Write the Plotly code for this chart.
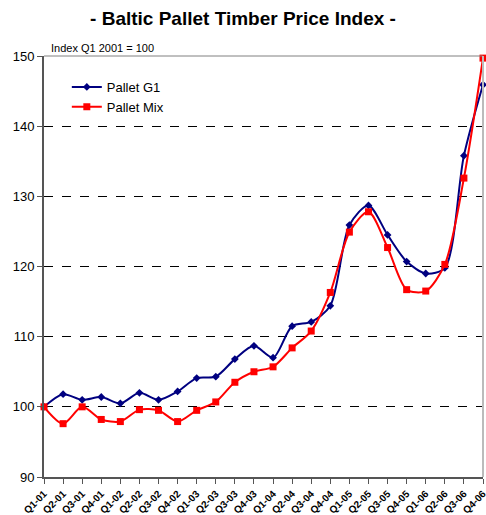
import plotly.graph_objects as go

quarters = [f"Q{q}-{y:02d}" for y in range(1, 7) for q in range(1, 5)]

pallet_g1 = [100.0, 101.8, 101.0, 101.4, 100.5, 102.0, 101.0, 102.2,
             104.1, 104.3, 106.8, 108.7, 107.0, 111.5, 112.1, 114.4,
             125.9, 128.7, 124.5, 120.7, 119.0, 119.8, 135.8, 145.9]
pallet_mix = [100.0, 97.6, 100.0, 98.2, 97.9, 99.6, 99.5, 97.9,
              99.5, 100.7, 103.5, 105.0, 105.7, 108.4, 110.8, 116.3,
              124.9, 127.8, 122.7, 116.7, 116.5, 120.3, 132.6, 149.7]

y_ticks = [90, 100, 110, 120, 130, 140, 150]

FONT = "Liberation Sans, Arial, sans-serif"

fig = go.Figure()
fig.add_trace(go.Scatter(
    x=quarters, y=pallet_g1, name="Pallet G1", mode="lines+markers",
    cliponaxis=False,
    line=dict(color="#000080", width=2, shape="spline", smoothing=0.8),
    marker=dict(symbol="diamond", size=6, color="#000080")))
fig.add_trace(go.Scatter(
    x=quarters, y=pallet_mix, name="Pallet Mix", mode="lines+markers",
    cliponaxis=False,
    line=dict(color="#FF0000", width=2, shape="spline", smoothing=0.8),
    marker=dict(symbol="square", size=7, color="#FF0000")))

fig.update_layout(
    width=486, height=515,
    margin=dict(l=44, r=3, t=56, b=38, autoexpand=False),
    paper_bgcolor="white", plot_bgcolor="white",
    font=dict(family=FONT, color="black"),
    title=dict(text="<b>- Baltic Pallet Timber Price Index -</b>",
               x=0.5, xanchor="center", y=0.965, yanchor="middle",
               font=dict(size=19, family=FONT)),
    showlegend=True,
    legend=dict(x=0.052, y=0.962, xanchor="left", yanchor="top",
                bgcolor="rgba(0,0,0,0)", font=dict(size=13, family=FONT),
                tracegroupgap=0, itemwidth=30),
    annotations=[dict(text="Index Q1 2001 = 100", xref="paper", yref="paper",
                      x=0.012, y=1.0, xanchor="left", yanchor="bottom",
                      showarrow=False, font=dict(size=11, family=FONT))],
    shapes=[
        dict(type="line", xref="paper", yref="paper", x0=0, x1=1, y0=1, y1=1,
             line=dict(color="#808080", width=1)),
        dict(type="line", xref="paper", yref="paper", x0=1, x1=1, y0=0, y1=1,
             line=dict(color="#BBBBBB", width=2)),
    ],
)

fig.update_xaxes(
    type="category", range=[0, len(quarters) - 1], automargin=False,
    showgrid=False, showline=True, linecolor="#555555", linewidth=2,
    ticks="outside", ticklen=5, tickcolor="#555555",
    tickangle=-45, tickfont=dict(size=10, family=FONT, color="black"),
    tickvals=quarters, ticktext=[f"<b>{q}</b>" for q in quarters])

fig.update_yaxes(
    range=[90, 150], tickvals=y_ticks, automargin=False,
    showgrid=True, gridcolor="black", griddash="dash", gridwidth=1,
    showline=True, linecolor="#555555", linewidth=2,
    ticks="outside", ticklen=5, tickcolor="#555555",
    tickfont=dict(size=13, family=FONT, color="black"),
    zeroline=False)

# drop the default 8px body margin so the figure fills the window exactly
fig.write_html("out.html", config={"displayModeBar": False},
               post_script="document.body.style.margin='0';")
